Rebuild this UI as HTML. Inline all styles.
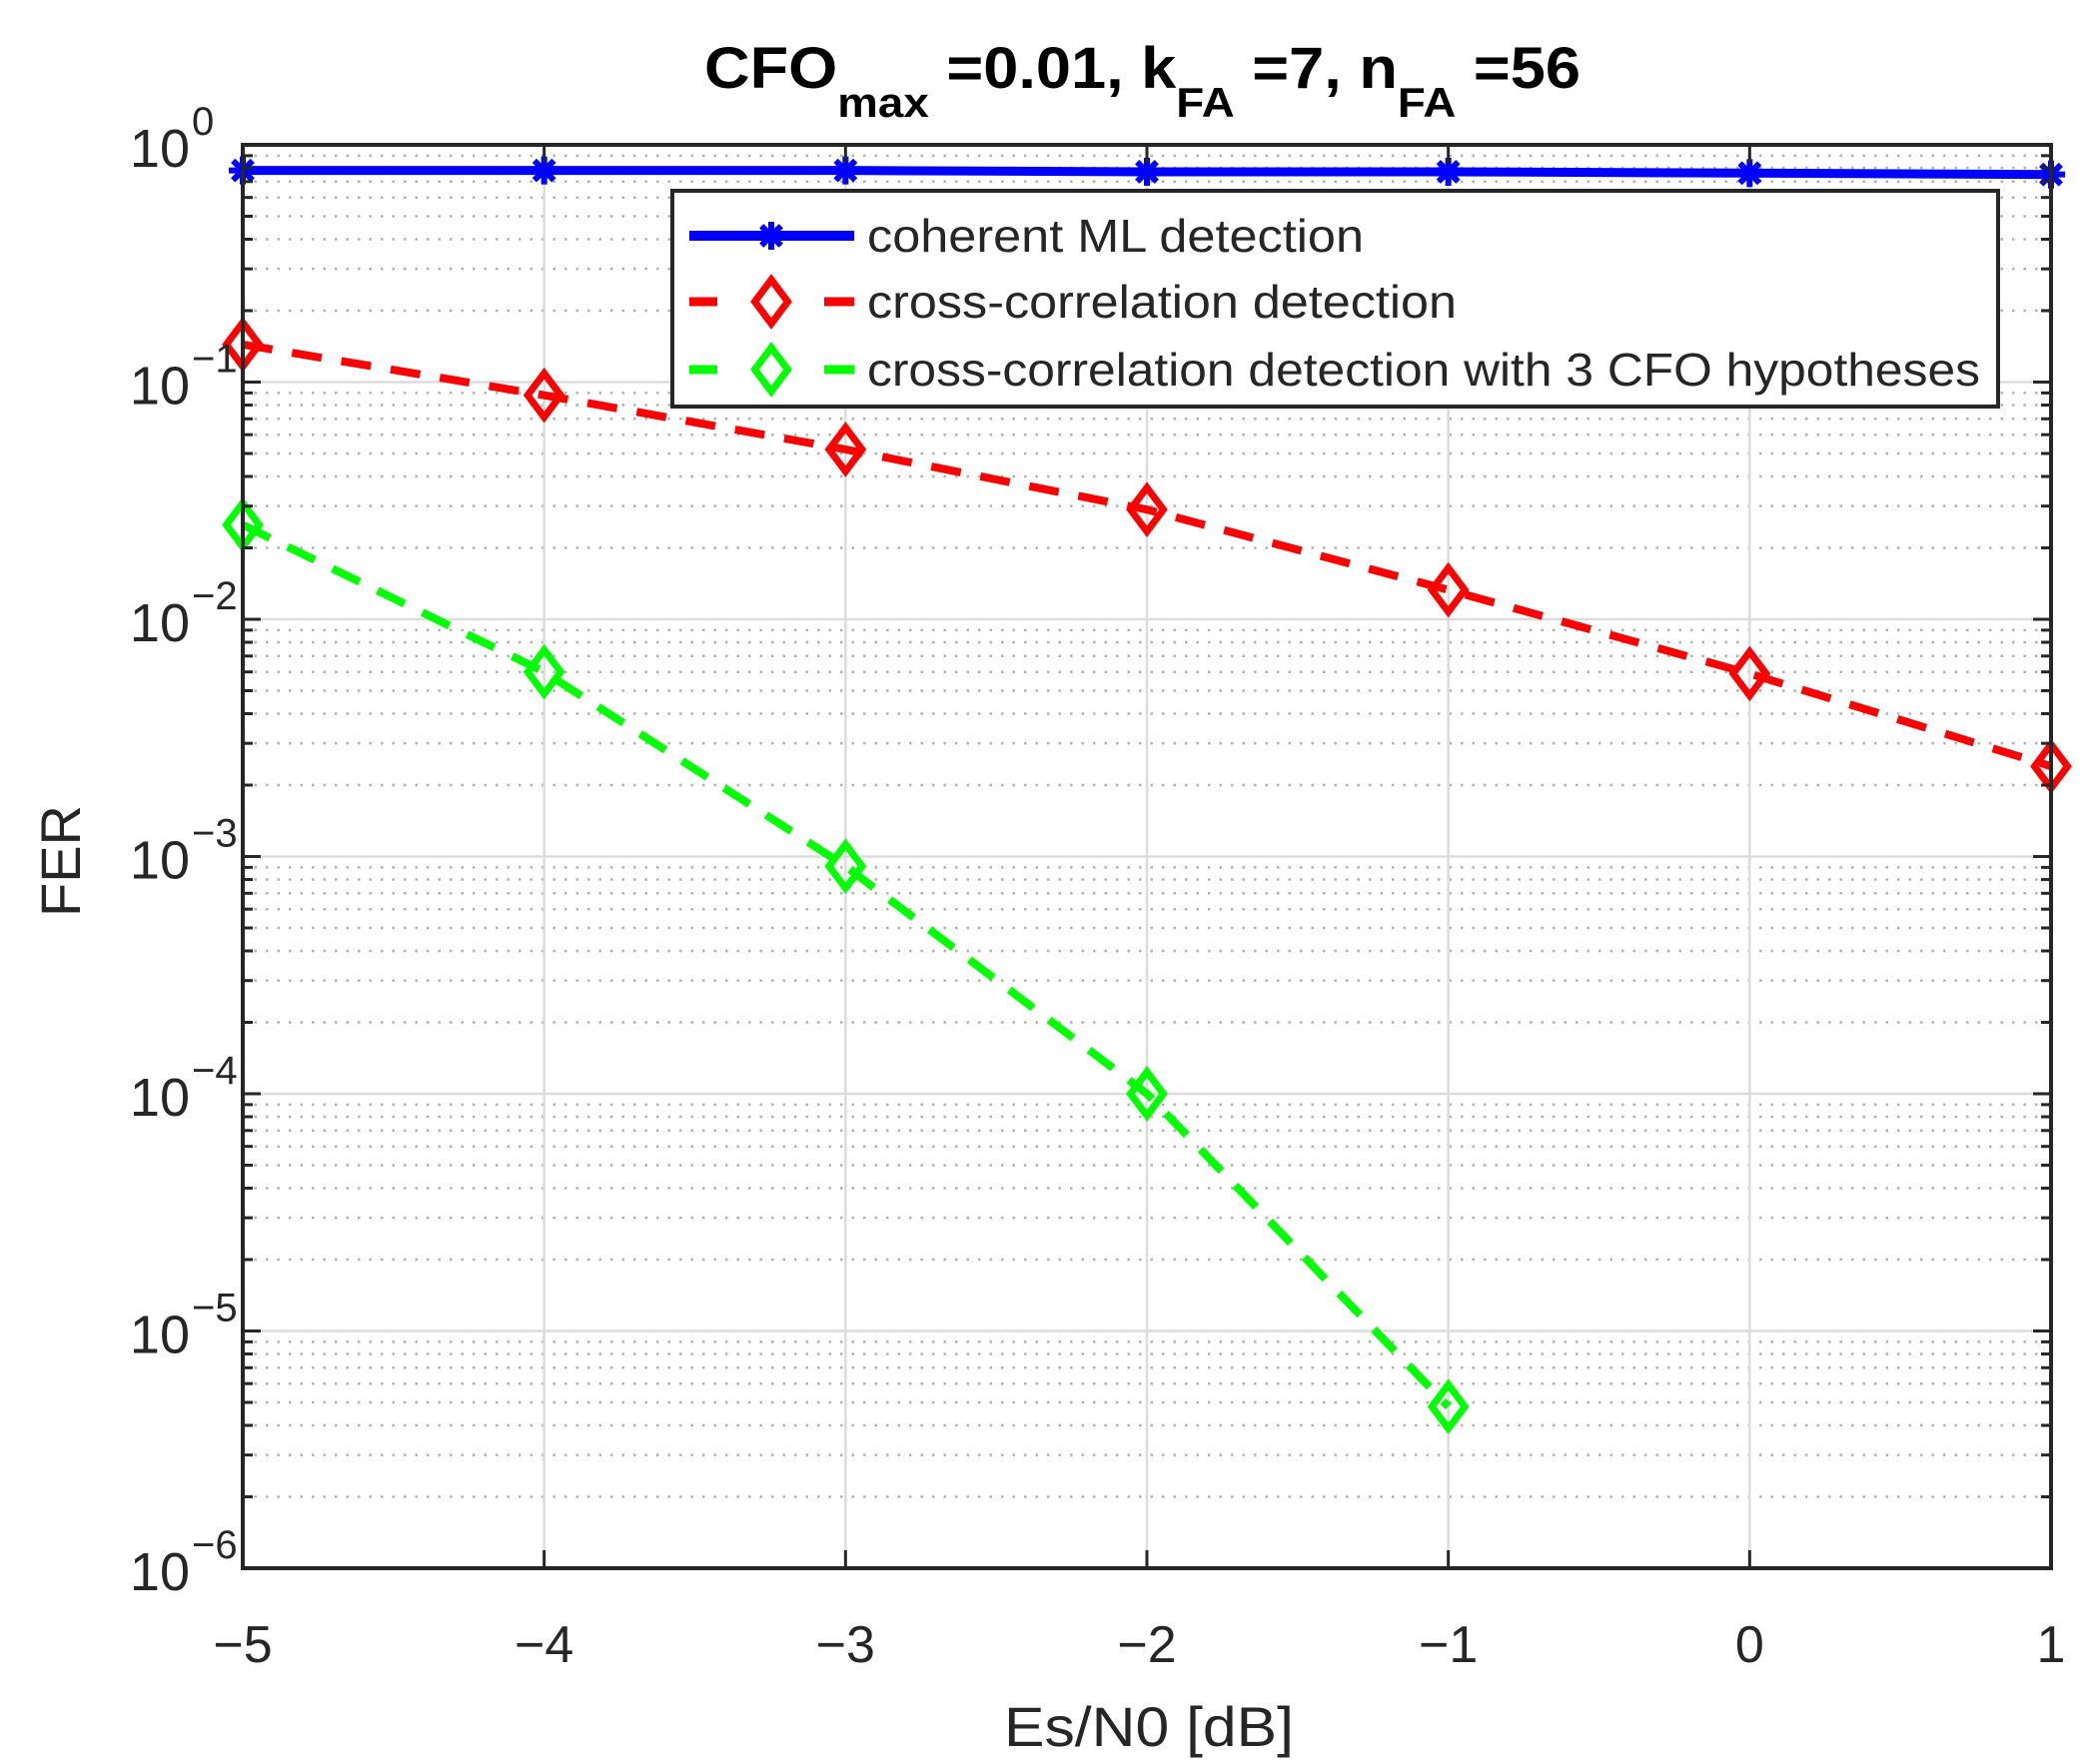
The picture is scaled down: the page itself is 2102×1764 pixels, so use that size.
<!DOCTYPE html>
<html><head><meta charset="utf-8"><style>
html,body{margin:0;padding:0;background:#fff;}
svg{display:block;font-family:"Liberation Sans",Arial,sans-serif;}
</style></head><body>
<svg id="chart" width="2102" height="1764" viewBox="0 0 2102 1764" xmlns="http://www.w3.org/2000/svg">
<rect width="2102" height="1764" fill="#fff"/>
<g id="grid"></g>
<g id="series"></g>
<g id="axes"></g>
<text x="705" y="88" font-size="58" font-weight="bold" fill="#000" textLength="877" lengthAdjust="spacingAndGlyphs">CFO<tspan dy="29" font-size="42">max</tspan><tspan dy="-29"> =0.01, k</tspan><tspan dy="29" font-size="42">FA</tspan><tspan dy="-29"> =7, n</tspan><tspan dy="29" font-size="42">FA</tspan><tspan dy="-29"> =56</tspan></text>
<text x="1150" y="1748" font-size="56" text-anchor="middle" fill="#262626" textLength="290" lengthAdjust="spacingAndGlyphs">Es/N0 [dB]</text>
<text transform="translate(80,862) rotate(-90)" font-size="56" text-anchor="middle" fill="#262626">FER</text>
<g id="legend"></g>
</svg>
<script>
const xValues = [-5, -4, -3, -2, -1, 0, 1];
const xTicks = [-5, -4, -3, -2, -1, 0, 1];
const xTickLabels = ["\u22125", "\u22124", "\u22123", "\u22122", "\u22121", "0", "1"];
const yDecades = [0, -1, -2, -3, -4, -5, -6];
const coherentML = [0.78, 0.78, 0.78, 0.77, 0.77, 0.76, 0.75];
const crossCorr = [0.144, 0.088, 0.052, 0.029, 0.0133, 0.0059, 0.0024];
const xValuesCfo3 = [-5, -4, -3, -2, -1];
const crossCorrCfo3 = [0.025, 0.006, 0.00091, 0.0001, 0.0000048];
const legendLabels = ["coherent ML detection", "cross-correlation detection", "cross-correlation detection with 3 CFO hypotheses"];

const L = 243, R = 2053, T = 145, B = 1570;
const xMin = -5, xMax = 1, yMinExp = -6, yMaxExp = 0;
function xs(v){ return L + (v - xMin) / (xMax - xMin) * (R - L); }
function ys(v){ return B - (Math.log10(v) - yMinExp) / (yMaxExp - yMinExp) * (B - T); }
const NS = "http://www.w3.org/2000/svg";
function mk(tag, attrs, parent){
  const e = document.createElementNS(NS, tag);
  for (const k in attrs) e.setAttribute(k, attrs[k]);
  parent.appendChild(e);
  return e;
}
const grid = document.getElementById('grid');
const axes = document.getElementById('axes');
const series = document.getElementById('series');
const legend = document.getElementById('legend');

for (let d = yMinExp; d < yMaxExp; d++) {
  for (let m = 2; m <= 9; m++) {
    const y = ys(m * Math.pow(10, d));
    const ln = mk('line', {x1: L, x2: R, y1: y, y2: y, stroke: '#b0b0b0', 'stroke-width': 2.5, 'stroke-dasharray': '2.5 9'}, grid);
    
    
    const t1 = mk('line', {x1: L, x2: L + 10, y1: y, y2: y, stroke: '#262626', 'stroke-width': 3}, axes);
    
    
    const t2 = mk('line', {x1: R, x2: R - 10, y1: y, y2: y, stroke: '#262626', 'stroke-width': 3}, axes);
    
    
  }
}
yDecades.forEach(d => {
  const y = ys(Math.pow(10, d));
  const ln = mk('line', {x1: L, x2: R, y1: y, y2: y, stroke: '#dcdcdc', 'stroke-width': 2.5}, grid);
  
  
  const t1 = mk('line', {x1: L, x2: L + 18, y1: y, y2: y, stroke: '#262626', 'stroke-width': 3}, axes);
  
  
  const t2 = mk('line', {x1: R, x2: R - 18, y1: y, y2: y, stroke: '#262626', 'stroke-width': 3}, axes);
  
  
  const tx = mk('text', {x: 190, y: y + 22, 'font-size': 54, 'text-anchor': 'end', fill: '#262626'}, axes);
  
  
  tx.textContent = '10';
  const sup = mk('text', {x: 192, y: y - 10, 'font-size': 40, 'text-anchor': 'start', fill: '#262626'}, axes);
  
  
  sup.textContent = d === 0 ? '0' : '\u2212' + Math.abs(d);
});
xTicks.forEach((v, i) => {
  const x = xs(v);
  const ln = mk('line', {x1: x, x2: x, y1: T, y2: B, stroke: '#dcdcdc', 'stroke-width': 2.5}, grid);
  
  
  const t1 = mk('line', {x1: x, x2: x, y1: B, y2: B - 18, stroke: '#262626', 'stroke-width': 3}, axes);
  
  
  const t2 = mk('line', {x1: x, x2: x, y1: T, y2: T + 18, stroke: '#262626', 'stroke-width': 3}, axes);
  
  
  const tx = mk('text', {x: x, y: 1664, 'font-size': 52, 'text-anchor': 'middle', fill: '#262626'}, axes);
  
  
  tx.textContent = xTickLabels[i];
});
const box = mk('rect', {x: L, y: T, width: R - L, height: B - T, fill: 'none', stroke: '#262626', 'stroke-width': 4}, axes);



function star(cx, cy, r, color, parent){
  const g = mk('g', {stroke: color, 'stroke-width': 6}, parent);
  mk('line', {x1: cx - r, x2: cx + r, y1: cy, y2: cy}, g);
  mk('line', {x1: cx, x2: cx, y1: cy - r, y2: cy + r}, g);
  mk('line', {x1: cx - r*0.7, x2: cx + r*0.7, y1: cy - r*0.7, y2: cy + r*0.7}, g);
  mk('line', {x1: cx - r*0.7, x2: cx + r*0.7, y1: cy + r*0.7, y2: cy - r*0.7}, g);
  return g;
}
function diamond(cx, cy, r, color, parent){
  return mk('polygon', {points: `${cx},${cy-r} ${cx+r*0.75},${cy} ${cx},${cy+r} ${cx-r*0.75},${cy}`, fill: 'none', stroke: color, 'stroke-width': 7}, parent);
}
function drawSeries(xsArr, ysArr, color, dashed, marker, name){
  const g = mk('g', {}, series);
  
  
  const pts = xsArr.map((v, i) => xs(v) + ',' + ys(ysArr[i])).join(' ');
  const attrs = {points: pts, fill: 'none', stroke: color, 'stroke-width': dashed ? 8 : 9};
  if (dashed) attrs['stroke-dasharray'] = '30 20';
  const pl = mk('polyline', attrs, g);
  
  
  xsArr.forEach((v, i) => {
    const m = marker === 'star' ? star(xs(v), ys(ysArr[i]), 14, color, g) : diamond(xs(v), ys(ysArr[i]), 22, color, g);
    
    
  });
}
drawSeries(xValues, coherentML, '#0000ff', false, 'star', 'coherent-ml-series');
drawSeries(xValues, crossCorr, '#ff0000', true, 'diamond', 'cross-correlation-series');
drawSeries(xValuesCfo3, crossCorrCfo3, '#00ff00', true, 'diamond', 'cfo3-series');

const lb = mk('rect', {x: 673, y: 191, width: 1327, height: 216, fill: '#fff', stroke: '#262626', 'stroke-width': 4}, legend);


const colors = ['#0000ff', '#ff0000', '#00ff00'];
const rowsY = [236, 302, 370];
const widths = [497, 590, 1114];
legendLabels.forEach((lab, i) => {
  const g = mk('g', {}, legend);
  
  
  const y = rowsY[i];
  if (i === 0) {
    mk('line', {x1: 690, x2: 855, y1: y, y2: y, stroke: colors[i], 'stroke-width': 10}, g);
    star(772, y, 14, colors[i], g);
  } else {
    mk('line', {x1: 690, x2: 718, y1: y, y2: y, stroke: colors[i], 'stroke-width': 9}, g);
    mk('line', {x1: 825, x2: 855, y1: y, y2: y, stroke: colors[i], 'stroke-width': 9}, g);
    diamond(772, y, 22, colors[i], g);
  }
  const t = mk('text', {x: 868, y: y + 16, 'font-size': 46, fill: '#262626', textLength: widths[i], lengthAdjust: 'spacingAndGlyphs'}, g);
  
  
  t.textContent = lab;
});
</script>
</body></html>
